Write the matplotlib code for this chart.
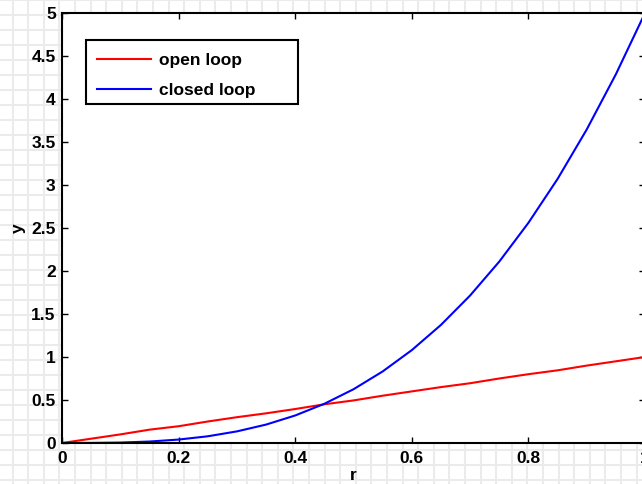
import numpy as np
import matplotlib.pyplot as plt
from matplotlib.patches import Rectangle

plt.rcParams['font.family'] = ['Liberation Sans', 'DejaVu Sans']
plt.rcParams['font.weight'] = 'bold'

# valores
r = [0.0, 0.05, 0.1, 0.15, 0.2, 0.25, 0.3, 0.35, 0.4, 0.45, 0.5,
     0.55, 0.6, 0.65, 0.7, 0.75, 0.8, 0.85, 0.9, 0.95, 1.0]
open_loop = [0.0, 0.05, 0.1, 0.155, 0.195, 0.25, 0.3, 0.345, 0.395, 0.45, 0.495,
             0.55, 0.6, 0.65, 0.695, 0.75, 0.8, 0.845, 0.9, 0.95, 1.0]
closed_loop = [0.0, 0.001, 0.005, 0.017, 0.04, 0.078, 0.135, 0.214, 0.32, 0.456, 0.625,
               0.832, 1.08, 1.373, 1.715, 2.109, 2.56, 3.07, 3.645, 4.287, 5.0]
xticks = [0, 0.2, 0.4, 0.6, 0.8, 1]
xticklabels = ['0', '0.2', '0.4', '0.6', '0.8', '1']
yticks = [0, 0.5, 1, 1.5, 2, 2.5, 3, 3.5, 4, 4.5, 5]
yticklabels = ['0', '0.5', '1', '1.5', '2', '2.5', '3', '3.5', '4', '4.5', '5']

W, H = 642, 484
DPI = 100
fig = plt.figure(figsize=(W/DPI, H/DPI), dpi=DPI)

# fondo cuadriculado
bg = fig.add_axes([0, 0, 1, 1])
bg.set_xlim(0, W)
bg.set_ylim(H, 0)
bg.axis('off')
for gx in np.arange(12.5, W, 15.6):
    bg.axvline(gx, color='#ebebeb', lw=1.5)
for gy in np.arange(0, H, 15):
    bg.axhline(gy, color='#ebebeb', lw=1.5)

# ejes principales (el borde derecho queda fuera de la imagen)
left, right, top, bottom = 62, 645, 13, 443
aw, ah = right - left, bottom - top
ax = fig.add_axes([left/W, (H-bottom)/H, aw/W, ah/H])
ax.set_facecolor('white')

ax.plot(r, open_loop, color='#ff0000', lw=1.5, label='open loop')
ax.plot(r, closed_loop, color='#0000ff', lw=1.5, label='closed loop')

ax.set_xlim(0, 1)
ax.set_ylim(0, 5)
ax.set_xticks(xticks)
ax.set_xticklabels(xticklabels)
ax.set_yticks(yticks)
ax.set_yticklabels(yticklabels)
ax.tick_params(direction='in', length=4, width=1, top=True, right=True,
               labelsize=12.5, pad=4.5)
ax.tick_params(axis='x', pad=6)
for s in ax.spines.values():
    s.set_linewidth(1.5)

ax.set_xlabel('r', fontsize=12.5, fontweight='bold', labelpad=1.5)
ax.set_ylabel('y', fontsize=12.5, fontweight='bold', labelpad=4)

# leyenda estilo matlab: caja mas ancha que el texto
lx0, lx1, ly0, ly1 = 86, 298, 40, 104
ax.add_patch(Rectangle(((lx0-left)/aw, (bottom-ly1)/ah), (lx1-lx0)/aw, (ly1-ly0)/ah,
                       transform=ax.transAxes, facecolor='white', edgecolor='black',
                       lw=1.5, zorder=4))
leg = ax.legend(loc='upper left', bbox_to_anchor=((lx0-left)/aw, (bottom-ly0-1.5)/ah),
                fontsize=12.5, frameon=False,
                handlelength=3.1, handletextpad=0.45, borderpad=0.65,
                labelspacing=0.85, borderaxespad=0)
leg.set_zorder(5)

plt.savefig('out.png', dpi=DPI)
